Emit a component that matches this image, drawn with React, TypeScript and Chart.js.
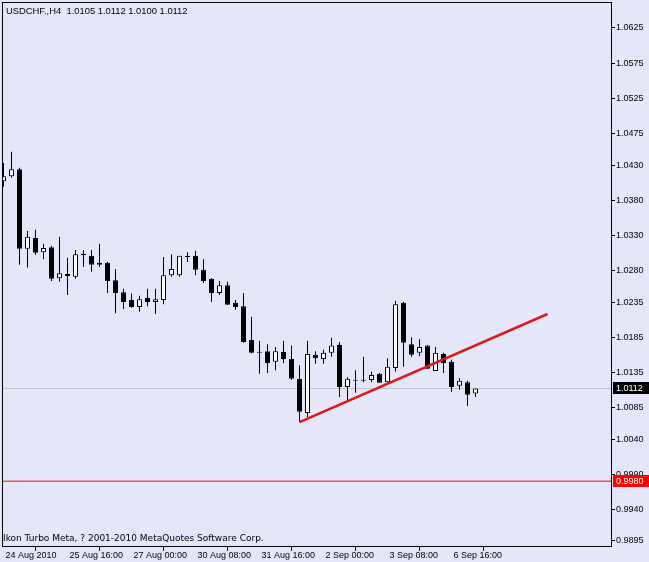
import React, { useEffect, useRef } from 'react';
import { Chart, registerables } from 'chart.js';

Chart.register(...registerables);

const symbolTitle = 'USDCHF.,H4  1.0105 1.0112 1.0100 1.0112';
const footerText = 'Ikon Turbo Meta, ? 2001-2010 MetaQuotes Software Corp.';

const barTimes = [
  '24 Aug 08:00', '24 Aug 12:00', '24 Aug 16:00', '24 Aug 20:00', '25 Aug 00:00', '25 Aug 04:00',
  '25 Aug 08:00', '25 Aug 12:00', '25 Aug 16:00', '25 Aug 20:00', '26 Aug 00:00', '26 Aug 04:00',
  '26 Aug 08:00', '26 Aug 12:00', '26 Aug 16:00', '26 Aug 20:00', '27 Aug 00:00', '27 Aug 04:00',
  '27 Aug 08:00', '27 Aug 12:00', '27 Aug 16:00', '27 Aug 20:00', '30 Aug 00:00', '30 Aug 04:00',
  '30 Aug 08:00', '30 Aug 12:00', '30 Aug 16:00', '30 Aug 20:00', '31 Aug 00:00', '31 Aug 04:00',
  '31 Aug 08:00', '31 Aug 12:00', '31 Aug 16:00', '31 Aug 20:00', '1 Sep 00:00', '1 Sep 04:00',
  '1 Sep 08:00', '1 Sep 12:00', '1 Sep 16:00', '1 Sep 20:00', '2 Sep 00:00', '2 Sep 04:00',
  '2 Sep 08:00', '2 Sep 12:00', '2 Sep 16:00', '2 Sep 20:00', '3 Sep 00:00', '3 Sep 04:00',
  '3 Sep 08:00', '3 Sep 12:00', '3 Sep 16:00', '3 Sep 20:00', '6 Sep 00:00', '6 Sep 04:00',
  '6 Sep 08:00', '6 Sep 12:00', '6 Sep 16:00', '6 Sep 20:00', '7 Sep 00:00', '7 Sep 04:00',
];

const opens = [
  1.0407, 1.0414, 1.0424, 1.0311, 1.0326, 1.0306, 1.0313, 1.0269, 1.0275, 1.0271,
  1.0303, 1.0301, 1.0291, 1.0291, 1.0266, 1.0249, 1.0238, 1.0228, 1.0241, 1.0235,
  1.0238, 1.0273, 1.0273, 1.0300, 1.0301, 1.0281, 1.0268, 1.0248, 1.0259, 1.0234,
  1.0229, 1.0181, 1.0163, 1.0165, 1.0150, 1.0164, 1.0154, 1.0126, 1.0077, 1.0160,
  1.0154, 1.0163, 1.0174, 1.0114, 1.0124, 1.0123, 1.0124, 1.0133, 1.0121, 1.0141,
  1.0234, 1.0175, 1.0163, 1.0173, 1.0137, 1.0161, 1.0150, 1.0116, 1.0121, 1.0105,
];
const highs = [
  1.0433, 1.0449, 1.0426, 1.0336, 1.0338, 1.0318, 1.0315, 1.0328, 1.0298, 1.0309,
  1.0309, 1.0309, 1.0318, 1.0292, 1.0282, 1.0254, 1.0247, 1.0244, 1.0254, 1.0254,
  1.0299, 1.0303, 1.0301, 1.0306, 1.0308, 1.0296, 1.0269, 1.0265, 1.0264, 1.0238,
  1.0248, 1.0214, 1.0180, 1.0175, 1.0171, 1.0180, 1.0173, 1.0145, 1.0180, 1.0165,
  1.0167, 1.0184, 1.0178, 1.0128, 1.0138, 1.0157, 1.0136, 1.0134, 1.0155, 1.0237,
  1.0235, 1.0185, 1.0182, 1.0174, 1.0171, 1.0163, 1.0153, 1.0127, 1.0123, 1.0112,
];
const lows = [
  1.0399, 1.0412, 1.0288, 1.0284, 1.0302, 1.0296, 1.0265, 1.0264, 1.0245, 1.0268,
  1.0285, 1.0278, 1.0285, 1.0248, 1.0219, 1.0225, 1.0227, 1.0221, 1.0229, 1.0218,
  1.0232, 1.0271, 1.0271, 1.0292, 1.0273, 1.0262, 1.0235, 1.0245, 1.0231, 1.0224,
  1.0177, 1.0162, 1.0133, 1.0134, 1.0138, 1.0148, 1.0124, 1.0064, 1.0071, 1.0147,
  1.0147, 1.0157, 1.0100, 1.0093, 1.0106, 1.0121, 1.0121, 1.0120, 1.0120, 1.0136,
  1.0143, 1.0157, 1.0158, 1.0140, 1.0137, 1.0134, 1.0107, 1.0110, 1.0087, 1.0100,
];
const closes = [
  1.0414, 1.0424, 1.0311, 1.0328, 1.0305, 1.0312, 1.0268, 1.0276, 1.0272, 1.0303,
  1.0302, 1.0288, 1.0288, 1.0265, 1.0248, 1.0235, 1.0228, 1.0239, 1.0235, 1.0239,
  1.0273, 1.0282, 1.0301, 1.0299, 1.0281, 1.0265, 1.0248, 1.0259, 1.0231, 1.0228,
  1.0178, 1.0163, 1.0164, 1.0148, 1.0165, 1.0154, 1.0126, 1.0079, 1.0161, 1.0155,
  1.0163, 1.0173, 1.0114, 1.0126, 1.0123, 1.0123, 1.0131, 1.0120, 1.0143, 1.0232,
  1.0177, 1.0160, 1.0171, 1.0140, 1.0163, 1.0148, 1.0114, 1.0123, 1.0103, 1.0112,
];

const xTickIndex = [0, 8, 16, 24, 32, 40, 48, 56];
const xTickLabels = [
  '24 Aug 2010', '25 Aug 16:00', '27 Aug 00:00', '30 Aug 08:00',
  '31 Aug 16:00', '2 Sep 00:00', '3 Sep 08:00', '6 Sep 16:00',
];
const yTickValues = [
  1.0625, 1.0575, 1.0525, 1.0475, 1.043, 1.038, 1.033, 1.028,
  1.0235, 1.0185, 1.0135, 1.0085, 1.004, 0.999, 0.994, 0.9895,
];

const trendX = [37, 68];
const trendY = [1.0064, 1.0218];
const alertLevel = 0.998;
const bidPrice = 1.0112;

const X_MIN = -0.1875;
const X_MAX = 75.9375;
const Y_MAX = 1.0662;
const Y_MIN = 0.98878;

const BG = '#e6e6fa';
const AXIS_FONT = { family: '"Liberation Sans", Arial, sans-serif', size: 9 };

const mtPlugin = {
  id: 'mt4frame',
  beforeDraw(chart: any) {
    const { ctx, width, height } = chart;
    ctx.save();
    ctx.fillStyle = BG;
    ctx.fillRect(0, 0, width, height);
    ctx.restore();
  },
  afterDraw(chart: any) {
    const { ctx, chartArea: a, scales } = chart;
    const ys = scales.y;
    ctx.save();
    ctx.strokeStyle = '#000';
    ctx.lineWidth = 1;
    ctx.strokeRect(a.left + 0.5, a.top + 0.5, a.right - a.left, a.bottom - a.top);

    ctx.fillStyle = '#000';
    ctx.textBaseline = 'alphabetic';
    ctx.textAlign = 'left';
    ctx.font = '9.4px "Liberation Sans", Arial, sans-serif';
    ctx.fillText(symbolTitle, 6, 14);
    ctx.font = '9px "DejaVu Sans", sans-serif';
    ctx.fillText(footerText, 3, 541);

    const box = (v: number, color: string) => {
      const py = Math.round(ys.getPixelForValue(v));
      ctx.fillStyle = color;
      ctx.fillRect(a.right + 2, py - 6, 36, 12);
      ctx.fillStyle = '#fff';
      ctx.font = '9px "Liberation Sans", Arial, sans-serif';
      ctx.textBaseline = 'middle';
      ctx.fillText(v.toFixed(4), a.right + 5, py + 0.5);
    };
    box(bidPrice, '#000');
    box(alertLevel, '#f00');
    ctx.restore();
  },
};

export default function App() {
  const ref = useRef<HTMLCanvasElement | null>(null);

  useEffect(() => {
    if (!ref.current) return;
    const chart = new Chart(ref.current, {
      type: 'bar',
      data: {
        datasets: [
          {
            type: 'line',
            label: 'trend',
            data: trendX.map((x, i) => ({ x, y: trendY[i] })),
            borderColor: '#e01818',
            borderWidth: 2.5,
            pointRadius: 0,
            order: -1,
          },
          {
            type: 'bar',
            label: 'body',
            data: barTimes.map((_, i) => ({ x: i, y: [opens[i], closes[i]] })),
            backgroundColor: closes.map((c, i) => (c > opens[i] ? '#ffffff' : '#000000')),
            borderColor: '#000',
            borderWidth: 1,
            borderSkipped: false,
            barThickness: 5,
            maxBarThickness: 5,
            minBarLength: 1,
            grouped: false,
            inflateAmount: 0,
            order: 0,
          },
          {
            type: 'bar',
            label: 'wick',
            data: barTimes.map((_, i) => ({ x: i, y: [lows[i], highs[i]] })),
            backgroundColor: '#000',
            borderWidth: 0,
            barThickness: 1,
            maxBarThickness: 1,
            grouped: false,
            inflateAmount: 0,
            order: 1,
          },
          {
            type: 'line',
            label: 'level',
            data: [{ x: X_MIN, y: alertLevel }, { x: X_MAX, y: alertLevel }],
            borderColor: '#ff0000',
            borderWidth: 1,
            pointRadius: 0,
            order: 2,
          },
          {
            type: 'line',
            label: 'bid',
            data: [{ x: X_MIN, y: bidPrice }, { x: X_MAX, y: bidPrice }],
            borderColor: '#c0c0c0',
            borderWidth: 1,
            pointRadius: 0,
            order: 3,
          },
        ] as any,
      },
      options: {
        responsive: false,
        animation: false,
        devicePixelRatio: 1,
        events: [],
        layout: { padding: { left: 2, top: 2, right: 0, bottom: 0 } },
        plugins: {
          legend: { display: false },
          tooltip: { enabled: false },
          title: { display: false },
        },
        scales: {
          x: {
            type: 'linear',
            min: X_MIN,
            max: X_MAX,
            offset: false,
            border: { display: false },
            grid: { display: true, drawOnChartArea: false, drawTicks: true, tickLength: 5, color: '#000' },
            afterBuildTicks: (s: any) => {
              s.ticks = xTickIndex.map((v) => ({ value: v }));
            },
            afterFit: (s: any) => {
              s.height = 16;
              s.paddingLeft = 0;
              s.paddingRight = 0;
            },
            ticks: {
              align: 'start',
              labelOffset: 2,
              padding: -1,
              maxRotation: 0,
              minRotation: 0,
              autoSkip: false,
              color: '#000',
              font: AXIS_FONT,
              callback: (v: any) => {
                const k = xTickIndex.indexOf(Number(v));
                return k >= 0 ? xTickLabels[k] : '';
              },
            },
          },
          y: {
            type: 'linear',
            position: 'right',
            min: Y_MIN,
            max: Y_MAX,
            border: { display: false },
            grid: { display: true, drawOnChartArea: false, drawTicks: true, tickLength: 4, color: '#000' },
            afterBuildTicks: (s: any) => {
              s.ticks = yTickValues.map((v) => ({ value: v }));
            },
            afterFit: (s: any) => {
              s.width = 38;
              s.paddingTop = 0;
              s.paddingBottom = 0;
            },
            ticks: {
              padding: 1,
              autoSkip: false,
              color: '#000',
              font: AXIS_FONT,
              callback: (v: any) => Number(v).toFixed(4),
            },
          },
        },
      } as any,
      plugins: [mtPlugin],
    });
    return () => chart.destroy();
  }, []);

  return (
    <div style={{ position: 'absolute', left: 0, top: 0, width: 649, height: 562 }}>
      <canvas ref={ref} width={649} height={562} style={{ display: 'block' }} />
    </div>
  );
}
